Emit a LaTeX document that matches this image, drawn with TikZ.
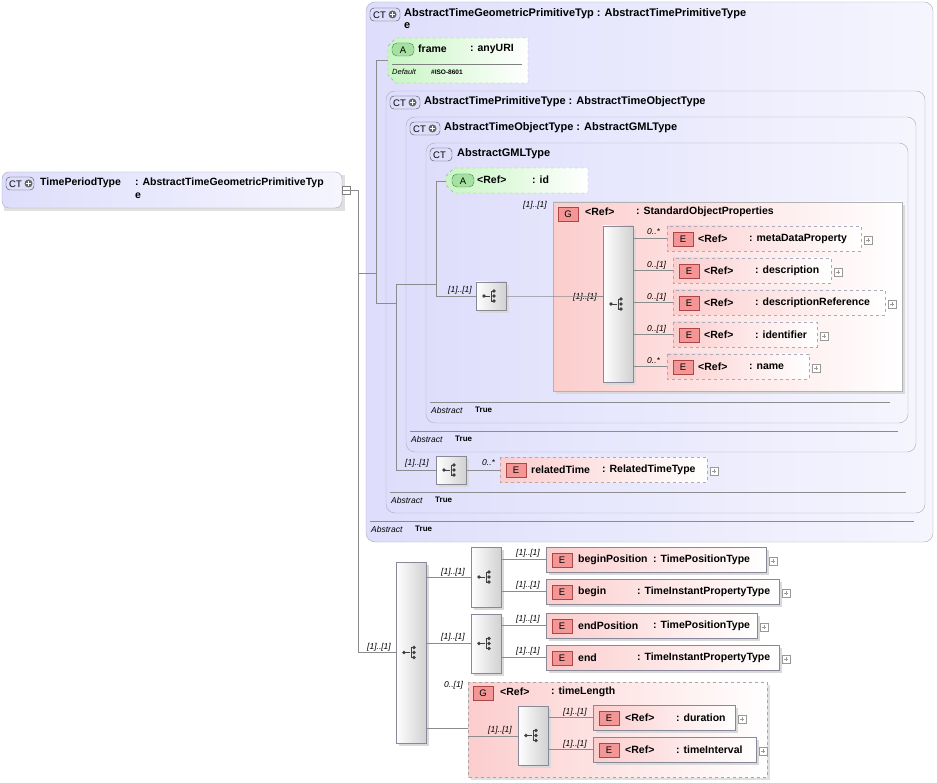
\documentclass[tikz,border=0pt]{standalone}
\usepackage{fontspec}
\setmainfont{Liberation Sans}
\begin{document}
\definecolor{lav}{RGB}{222,222,252}
\definecolor{lavb}{RGB}{170,170,190}
\definecolor{pinkf}{RGB}{252,205,205}
\definecolor{pinkb}{RGB}{245,150,150}
\definecolor{pinkbd}{RGB}{170,70,70}
\definecolor{grnf}{RGB}{200,245,195}
\definecolor{grnb}{RGB}{165,225,160}
\definecolor{grnbd}{RGB}{70,130,70}
\definecolor{ln}{RGB}{140,140,140}
\tikzset{
 ct/.style={draw=lavb,rounded corners=9pt,left color=lav,right color=lav!30!white},
 txt/.style={anchor=west,inner sep=0pt,font=\fontsize{10.5}{12}\selectfont\bfseries},
 hd/.style={anchor=west,inner sep=0pt,font=\fontsize{11}{12}\selectfont\bfseries},
 sm/.style={anchor=west,inner sep=0pt,font=\fontsize{8.5}{10}\selectfont\itshape},
 smb/.style={anchor=west,inner sep=0pt,font=\fontsize{8}{10}\selectfont\bfseries},
 elem/.style={draw=lavb!80!black,left color=pinkf,right color=white},
 elemd/.style={draw=lavb,dashed,left color=pinkf,right color=white},
 con/.style={draw=ln,line width=0.6pt},
 seq/.style={draw=lavb!80!black,left color=white,right color=black!18},
}
\newcommand\badge[3]{% x y letter (pink)
 \draw[draw=pinkbd,fill=pinkb] ({#1},{#2}) rectangle ({#1+20},{#2+14});
 \node[inner sep=0pt,font=\fontsize{9.5}{10}\selectfont] at ({#1+10},{#2+7.5}) {#3};}
\newcommand\abadge[2]{%
 \draw[draw=grnbd,fill=grnb,rounded corners=5pt] (#1,#2) rectangle (#1+22,#2+13);
 \node[inner sep=0pt,font=\fontsize{9.5}{10}\selectfont] at (#1+11,#2+7) {A};}
\newcommand\ctbadge[3]{% x y width
 \draw[draw=black!70,fill=lav,rounded corners=4pt] (#1,#2) rectangle (#1+#3,#2+13);
 \node[inner sep=0pt,anchor=west,font=\fontsize{9.5}{10}\selectfont] at (#1+3,#2+7) {CT};
 \ifnum#3>25 \fill[black!60] (#1+22.5,#2+6.5) circle (4);
 \draw[white,line width=1.1pt] (#1+20,#2+6.5)--(#1+25,#2+6.5) (#1+22.5,#2+4)--(#1+22.5,#2+9);\fi}
\newcommand\plusbox[2]{%
 \draw[black!40,fill=white] ({#1},{#2-4}) rectangle ({#1+8},{#2+4});
 \draw[black!40] ({#1+2},{#2})--({#1+6},{#2}) ({#1+4},{#2-2})--({#1+4},{#2+2});}
\newcommand\seqicon[2]{%
 \pgfmathsetmacro\sx{#1}\pgfmathsetmacro\sy{#2}%
 \fill[black!75] (\sx-6,\sy) circle (1.8);
 \draw[black!75,line width=0.8pt] (\sx-6,\sy)--(\sx,\sy) (\sx+4,\sy-5)--(\sx+1,\sy-5)--(\sx+1,\sy+5)--(\sx+4,\sy+5);
 \foreach \d in {-5,0,5} \fill[black!75] (\sx+4,\sy+\d) circle (1.9);}
\newcommand\seqbox[5]{% name x1 y1 x2 y2
 \fill[black!15] (#2+3,#3+3) rectangle (#4+3,#5+3);
 \draw[seq] (#2,#3) rectangle (#4,#5);
 \node[inner sep=0pt] (#1) at ({(#2+#4)/2},{(#3+#5)/2}) {};
 \seqicon{(#2+#4)/2-1}{(#3+#5)/2}}
\newcommand\attrshape[4]{%
 \draw[draw=black!35,dashed,left color=grnf,right color=white] (#1,#2+8)--(#1+8,#2)--(#3,#2)--(#3,#4)--(#1+8,#4)--(#1,#4-8)--cycle;}
\newcommand\el[8]{% x1 y1 x2 style name nameX type typeX  (height 25)
 \ifx#4s\fill[black!15] (#1+3,#2+3) rectangle (#3+3,#2+28);\draw[elem] (#1,#2) rectangle (#3,#2+25);\else
 \draw[elemd] (#1,#2) rectangle (#3,#2+25);\fi
 \badge{#1+6}{#2+6}{E}
 \node[txt] at (#6,#2+12.5) {#5};
 \node[txt] at (#8,#2+12.5) {#7};
 \plusbox{#3+3}{#2+14}}
\newcommand\lab[3]{\node[sm] at (#1,#2) {#3};}
\begin{tikzpicture}[x=1pt,y=-1pt]
\useasboundingbox[fill=white] (0,0) rectangle (937,783);
% TimePeriodType
\fill[black!12] (4,175) rectangle (345,211);
\draw[ct,rounded corners=7pt] (2,172) rectangle (342,208);
\ctbadge{6}{177}{28}
\node[txt] at (40,183) {TimePeriodType};
\node[txt] at (135,183) {: AbstractTimeGeometricPrimitiveTyp};
\node[txt] at (135,196) {e};
\draw[black!50,fill=white] (342,186) rectangle (350,194); \draw[black!50] (344,190)--(348,190);
% CT boxes
\draw[ct] (366,2) rectangle (933,542);
\ctbadge{370}{8}{30}
\node[hd] at (404,14) {AbstractTimeGeometricPrimitiveTyp : AbstractTimePrimitiveType};
\node[hd] at (404,26) {e};
\attrshape{388}{38}{528}{83}
\abadge{392}{43}
\node[txt] at (418,49) {frame};
\node[txt] at (470,49) {: anyURI};
\draw[black!50] (392,64)--(522,64);
\node[sm,font=\fontsize{7.5}{8}\selectfont\itshape] at (392,72) {Default};
\node[smb,font=\fontsize{6.5}{8}\selectfont\bfseries] at (431,72) {\#ISO-8601};
\draw[ct] (386,91) rectangle (925,513);
\ctbadge{390}{96}{30}
\node[hd] at (424,102) {AbstractTimePrimitiveType : AbstractTimeObjectType};
\draw[ct] (406,117) rectangle (916,452);
\ctbadge{410}{122}{30}
\node[hd] at (444,128) {AbstractTimeObjectType : AbstractGMLType};
\draw[ct] (426,143) rectangle (908,423);
\ctbadge{430}{148}{22}
\node[hd] at (457,154) {AbstractGMLType};
\attrshape{446}{168}{588}{193}
\abadge{452}{174}
\node[txt] at (477,180) {<Ref>};
\node[txt] at (532,180) {: id};
% abstract lines
\draw[black!45] (430,402)--(890,402); \lab{431}{410}{Abstract}\node[smb] at (475,410) {True};
\draw[black!45] (410,431)--(898,431); \lab{411}{439}{Abstract}\node[smb] at (455,439) {True};
\draw[black!45] (390,492)--(906,492); \lab{391}{500}{Abstract}\node[smb] at (435,500) {True};
\draw[black!45] (370,521)--(914,521); \lab{371}{529}{Abstract}\node[smb] at (415,529) {True};
% group StandardObjectProperties
\fill[black!15] (556,205) rectangle (905,394);
\draw[draw=black!30,left color=pinkf,right color=white] (553,202) rectangle (902,391);
\badge{558}{207}{G}
\node[txt] at (585,212) {<Ref>};
\node[txt] at (636,212) {: StandardObjectProperties};
\lab{523}{205}{[1]..[1]}
\seqbox{sq1}{476}{282}{506}{310}
\seqbox{sq2}{603}{226}{633}{382}
\lab{573}{297}{[1]..[1]}
\lab{448}{290}{[1]..[1]}
\el{667}{226}{861}{d}{<Ref>}{698}{: metaDataProperty}{749}
\el{673}{258}{831}{d}{<Ref>}{704}{: description}{755}
\el{673}{290}{885}{d}{<Ref>}{704}{: descriptionReference}{755}
\el{673}{322}{817}{d}{<Ref>}{704}{: identifier}{755}
\el{667}{354}{809}{d}{<Ref>}{698}{: name}{749}
\lab{647}{232}{0..*}\lab{647}{265}{0..[1]}\lab{647}{297}{0..[1]}\lab{647}{329}{0..[1]}\lab{647}{361}{0..*}
\foreach \yy/\xx in {238/667,270/673,302/673,334/673,366/667}{\draw[con] (633,\yy)--(\xx,\yy);}
\draw[con] (506,296)--(553,296)--(603,296);
% relatedTime
\seqbox{sq3}{436}{456}{466}{484}
\lab{405}{463}{[1]..[1]}
\el{500}{457}{707}{d}{relatedTime}{531}{: RelatedTimeType}{602}
\lab{482}{463}{0..*}
\draw[con] (466,470)--(500,470);
% inner connectors
\draw[con] (342,190)--(358,190)--(358,652)--(396,652);
\draw[con] (358,273)--(376,273);
\draw[con] (388,60)--(376,60)--(376,303)--(396,303);
\draw[con] (437,284)--(396,284)--(396,470)--(436,470);
\draw[con] (446,181)--(436,181)--(436,296)--(476,296);
% bottom
\seqbox{sq4}{396}{562}{426}{743}
\lab{367}{647}{[1]..[1]}
\seqbox{sq5}{471}{547}{501}{607}
\seqbox{sq6}{471}{614}{501}{673}
\lab{441}{572}{[1]..[1]}\lab{441}{637}{[1]..[1]}
\draw[con] (426,577)--(471,577) (426,643)--(471,643) (426,728)--(468,728);
\el{546}{547}{766}{s}{beginPosition}{578}{: TimePositionType}{653}
\el{546}{579}{779}{s}{begin}{578}{: TimeInstantPropertyType}{637}
\el{546}{613}{757}{s}{endPosition}{578}{: TimePositionType}{653}
\el{546}{645}{779}{s}{end}{578}{: TimeInstantPropertyType}{637}
\lab{516}{553}{[1]..[1]}\lab{516}{585}{[1]..[1]}\lab{516}{619}{[1]..[1]}\lab{516}{651}{[1]..[1]}
\draw[con] (501,559)--(546,559) (501,591)--(546,591) (501,625)--(546,625) (501,657)--(546,657);
% timeLength group
\fill[black!12] (471,685) rectangle (770,780);
\draw[draw=black!35,dashed,left color=pinkf,right color=white] (468,682) rectangle (767,777);
\badge{473}{686}{G}
\node[txt] at (500,692) {<Ref>};
\node[txt] at (551,692) {: timeLength};
\lab{444}{685}{0..[1]}
\seqbox{sq7}{518}{706}{548}{765}
\lab{488}{730}{[1]..[1]}
\draw[con] (468,736)--(518,736);
\el{593}{705}{735}{s}{<Ref>}{625}{: duration}{676}
\el{593}{737}{756}{s}{<Ref>}{625}{: timeInterval}{676}
\lab{563}{712}{[1]..[1]}\lab{563}{744}{[1]..[1]}
\draw[con] (548,717)--(593,717) (548,749)--(593,749);
\end{tikzpicture}
\end{document}
